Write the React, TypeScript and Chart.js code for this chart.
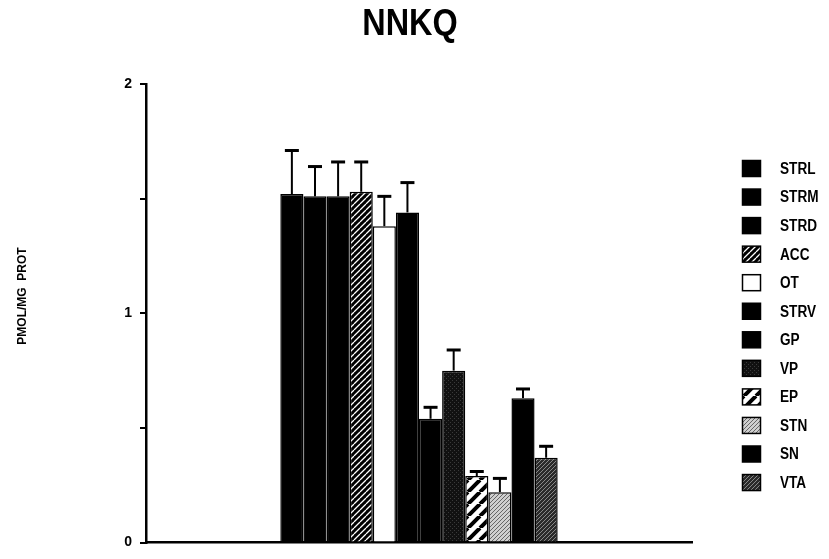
import React, { useEffect, useRef } from "react";
import { Chart, registerables } from "chart.js";

Chart.register(...registerables);

const categories = [""];
const seriesLabels = ["STRL", "STRM", "STRD", "ACC", "OT", "STRV", "GP", "VP", "EP", "STN", "SN", "VTA"];
const seriesValues = [1.52, 1.51, 1.51, 1.53, 1.38, 1.44, 0.54, 0.75, 0.29, 0.22, 0.63, 0.37];
const seriesErrors = [0.19, 0.13, 0.15, 0.13, 0.13, 0.13, 0.05, 0.09, 0.02, 0.06, 0.04, 0.05];
const yTickValues = [0, 1, 2];
const titleText = "NNKQ";
const yTitleText = "PMOL/MG  PROT";

function makePattern(kind: string): CanvasPattern | string {
  const c = document.createElement("canvas");
  const ctx = c.getContext("2d")!;
  if (kind === "solid") return "#000";
  if (kind === "white") return "#fff";
  if (kind === "hatchFine") {
    c.width = 6; c.height = 6;
    ctx.fillStyle = "#000"; ctx.fillRect(0, 0, 6, 6);
    ctx.strokeStyle = "#fff"; ctx.lineWidth = 1.3;
    ctx.beginPath();
    for (let k = -6; k <= 12; k += 6) { ctx.moveTo(k, 6); ctx.lineTo(k + 6, 0); }
    ctx.stroke();
    return ctx.createPattern(c, "repeat")!;
  }
  if (kind === "hatchWide") {
    c.width = 12; c.height = 12;
    ctx.fillStyle = "#fff"; ctx.fillRect(0, 0, 12, 12);
    ctx.strokeStyle = "#000"; ctx.lineWidth = 4;
    ctx.beginPath();
    for (let k = -12; k <= 24; k += 12) { ctx.moveTo(k, 12); ctx.lineTo(k + 12, 0); }
    ctx.stroke();
    return ctx.createPattern(c, "repeat")!;
  }
  if (kind === "darkSpeck" || kind === "lightStipple" || kind === "midStipple") {
    c.width = 4; c.height = 4;
    const base = kind === "darkSpeck" ? "#111" : kind === "lightStipple" ? "#cfcfcf" : "#2a2a2a";
    const dot = kind === "darkSpeck" ? "#3a3a3a" : kind === "lightStipple" ? "#666" : "#888";
    ctx.fillStyle = base; ctx.fillRect(0, 0, 4, 4);
    ctx.fillStyle = dot;
    ctx.fillRect(0, 0, 1, 1); ctx.fillRect(2, 2, 1, 1);
    if (kind !== "darkSpeck") { ctx.fillRect(1, 3, 1, 1); ctx.fillRect(3, 1, 1, 1); }
    return ctx.createPattern(c, "repeat")!;
  }
  return "#000";
}

const seriesKinds = ["solid", "solid", "solid", "hatchFine", "white", "solid", "solid", "darkSpeck", "hatchWide", "lightStipple", "solid", "midStipple"];

const FONT = "'Liberation Sans', Arial, Helvetica, sans-serif";

export default function App() {
  const ref = useRef<HTMLCanvasElement | null>(null);
  useEffect(() => {
    document.body.style.margin = "0";
    const canvas = ref.current!;
    const fills = seriesKinds.map(makePattern);

    const extras = {
      id: "extras",
      afterDatasetsDraw(chart: any) {
        const ctx = chart.ctx;
        const ys = chart.scales.y;
        ctx.save();
        ctx.strokeStyle = "#000";
        chart.data.datasets.forEach((ds: any, i: number) => {
          const meta = chart.getDatasetMeta(i);
          meta.data.forEach((bar: any, j: number) => {
            const v = ds.data[j];
            const e = seriesErrors[i];
            const yTop = ys.getPixelForValue(v + e);
            const yBar = ys.getPixelForValue(v);
            ctx.lineWidth = 2;
            ctx.beginPath();
            ctx.moveTo(bar.x, yBar);
            ctx.lineTo(bar.x, yTop);
            ctx.stroke();
            ctx.lineWidth = 3;
            ctx.beginPath();
            ctx.moveTo(bar.x - 7, yTop);
            ctx.lineTo(bar.x + 7, yTop);
            ctx.stroke();
          });
        });
        ctx.restore();
      },
      afterDraw(chart: any) {
        const ctx = chart.ctx;
        ctx.save();
        ctx.fillStyle = "#000";
        // title
        ctx.save();
        ctx.translate(410, 35);
        ctx.scale(0.9, 1);
        ctx.font = `bold 36px ${FONT}`;
        ctx.textAlign = "center";
        ctx.textBaseline = "alphabetic";
        ctx.fillText(titleText, 0, 0);
        ctx.restore();
        // y title
        ctx.save();
        ctx.translate(23, 296);
        ctx.rotate(-Math.PI / 2);
        ctx.font = `bold 12px ${FONT}`;
        ctx.textAlign = "center";
        ctx.textBaseline = "middle";
        ctx.fillText(yTitleText, 0, 0);
        ctx.restore();
        // legend
        chart.data.datasets.forEach((ds: any, i: number) => {
          const cy = 168.5 + i * 28.55;
          ctx.fillStyle = ds.backgroundColor;
          ctx.fillRect(742.5, cy - 8, 18, 16);
          ctx.strokeStyle = "#000";
          ctx.lineWidth = 1.5;
          ctx.strokeRect(742.5, cy - 8, 18, 16);
          ctx.save();
          ctx.translate(780, cy);
          ctx.scale(0.85, 1);
          ctx.font = `bold 16px ${FONT}`;
          ctx.textAlign = "left";
          ctx.textBaseline = "middle";
          ctx.fillStyle = "#000";
          ctx.fillText(ds.label, 0, 1);
          ctx.restore();
        });
        ctx.restore();
      },
    };

    const chart = new Chart(canvas, {
      type: "bar",
      data: {
        labels: categories,
        datasets: seriesLabels.map((label, i) => ({
          label,
          data: [seriesValues[i]],
          backgroundColor: fills[i] as any,
          borderColor: "#000",
          borderWidth: 1.5,
          borderSkipped: "start",
          categoryPercentage: 0.508,
          barPercentage: 1,
        })),
      },
      options: {
        animation: false,
        responsive: true,
        maintainAspectRatio: false,
        layout: { padding: { left: 0, right: 137, top: 84, bottom: 10 } },
        plugins: {
          legend: { display: false },
          title: { display: false },
          tooltip: { enabled: false },
        },
        scales: {
          x: {
            type: "category",
            grid: { display: false, drawTicks: false },
            border: { display: true, color: "#000", width: 2.5 },
            ticks: { display: false },
            afterFit: (s: any) => { s.height = 0; },
          },
          y: {
            min: 0,
            max: 2,
            afterBuildTicks: (s: any) => {
              s.ticks = [0, 0.5, 1, 1.5, 2].map((v) => ({ value: v }));
            },
            ticks: {
              color: "#000",
              font: { family: FONT, size: 14, weight: "bold" },
              padding: 8,
              callback: (v: any) => (yTickValues.includes(Number(v)) ? String(v) : ""),
            },
            grid: {
              drawOnChartArea: false,
              drawTicks: true,
              tickLength: 6,
              color: "#000",
              lineWidth: 2,
            },
            border: { display: true, color: "#000", width: 2.5 },
            afterFit: (s: any) => { s.width = 146; },
          },
        },
      },
      plugins: [extras],
    });
    return () => chart.destroy();
  }, []);
  return (
    <div style={{ width: 829, height: 559, position: "relative" }}>
      <canvas ref={ref} />
    </div>
  );
}
